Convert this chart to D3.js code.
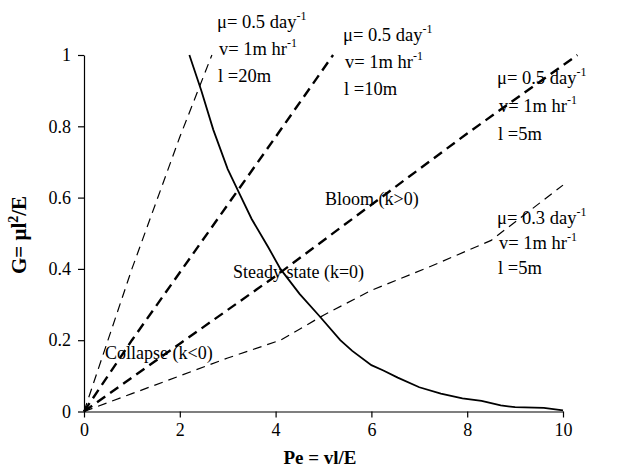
<!DOCTYPE html>
<html>
<head>
<meta charset="utf-8">
<script src="https://cdn.jsdelivr.net/npm/d3@7"></script>
<style>
  body { margin: 0; background: #fff; }
  text { font-family: "Liberation Serif", "Times New Roman", serif; fill: #000; }
</style>
</head>
<body>
<div id="root"></div>
<script>
// Steady state curve (k=0)
const steadyPe = [2.2, 2.45, 2.7, 3.0, 3.25, 3.5, 3.85, 4.1, 4.5, 4.9, 5.35, 5.6, 6.0, 6.25, 6.55, 7.0, 7.45, 7.9, 8.3, 8.7, 9.0, 9.6, 10];
const steadyG = [1.0, 0.9, 0.79, 0.68, 0.61, 0.54, 0.46, 0.4, 0.33, 0.27, 0.2, 0.17, 0.13, 0.115, 0.095, 0.068, 0.05, 0.037, 0.03, 0.017, 0.012, 0.01, 0.003];

// Dashed lines for each parameter set
const line20mPe = [0, 1, 2, 2.67];
const line20mG = [0, 0.4, 0.77, 1.0];
const line10mPe = [0, 1, 2, 3, 4, 5.2];
const line10mG = [0, 0.2, 0.39, 0.58, 0.77, 1.0];
const line5mPe = [0, 2, 4, 6, 8, 10.3];
const line5mG = [0, 0.19, 0.38, 0.58, 0.78, 1.0];
const line5mLowPe = [0, 1, 2, 3, 4.1, 5, 6, 7.2, 8.5, 10];
const line5mLowG = [0, 0.05, 0.1, 0.15, 0.2, 0.27, 0.34, 0.405, 0.48, 0.635];

const xTicks = [0, 2, 4, 6, 8, 10];
const yTicks = [0, 0.2, 0.4, 0.6, 0.8, 1];

const width = 636, height = 472;
const svg = d3.select("#root").append("svg")
  .attr("width", width)
  .attr("height", height);

const x = d3.scaleLinear().domain([0, 10]).range([84, 563]);
const y = d3.scaleLinear().domain([0, 1]).range([411.5, 55]);

// axes
svg.append("g")
  .attr("transform", `translate(0,${y(0)})`)
  .call(d3.axisBottom(x).tickValues(xTicks).tickFormat(d3.format("d")).tickSize(6).tickSizeOuter(0).tickPadding(6))
  .call(g => g.selectAll("text").style("font-size", "18px").style("font-family", "Liberation Serif"))
  .call(g => g.selectAll("path, line").attr("stroke", "#000").attr("stroke-width", 1.2));

svg.append("g")
  .attr("transform", `translate(${x(0)},0)`)
  .call(d3.axisLeft(y).tickValues(yTicks).tickFormat(d => d === 0 || d === 1 ? d : d3.format(".1f")(d)).tickSize(6).tickSizeOuter(0).tickPadding(7))
  .call(g => g.selectAll("text").style("font-size", "18px").style("font-family", "Liberation Serif"))
  .call(g => g.selectAll("path, line").attr("stroke", "#000").attr("stroke-width", 1.2));

const line = d3.line().x(d => x(d[0])).y(d => y(d[1]));

function drawLine(pe, g, width, dash) {
  svg.append("path")
    .datum(d3.zip(pe, g))
    .attr("d", line)
    .attr("fill", "none")
    .attr("stroke", "#000")
    .attr("stroke-width", width)
    .attr("stroke-dasharray", dash);
}

drawLine(line20mPe, line20mG, 1.2, "9,6");
drawLine(line10mPe, line10mG, 2.4, "10,6");
drawLine(line5mPe, line5mG, 2.4, "10,6");
drawLine(line5mLowPe, line5mLowG, 1.2, "9,6");
drawLine(steadyPe, steadyG, 1.8, null);

// parameter annotations
function note(x0, y0, mu, l, step) {
  const t1 = svg.append("text").attr("x", x0).attr("y", y0).style("font-size", "18.5px");
  t1.append("tspan").text(`μ= ${mu} day`);
  t1.append("tspan").attr("dy", -8).style("font-size", "12px").text("-1");
  const t2 = svg.append("text").attr("x", x0 + 2).attr("y", y0 + step).style("font-size", "18.5px");
  t2.append("tspan").text("v= 1m hr");
  t2.append("tspan").attr("dy", -8).style("font-size", "12px").text("-1");
  svg.append("text").attr("x", x0 + 1).attr("y", y0 + 2 * step).style("font-size", "18.5px").text(`l =${l}`);
}
note(217, 28, "0.5", "20m", 27);
note(343, 41, "0.5", "10m", 27);
note(497, 84, "0.5", "5m", 28);
note(497, 224, "0.3", "5m", 25);

// region labels
svg.append("text").attr("x", 325).attr("y", 205).style("font-size", "18px").text("Bloom (k>0)");
svg.append("text").attr("x", 233).attr("y", 278).style("font-size", "18px").text("Steady state (k=0)");
svg.append("text").attr("x", 105).attr("y", 359).style("font-size", "18px").text("Collapse (k<0)");

// axis titles
svg.append("text")
  .attr("x", 320).attr("y", 464)
  .attr("text-anchor", "middle")
  .style("font-size", "19px").style("font-weight", "bold")
  .text("Pe = vl/E");

const yt = svg.append("text")
  .attr("transform", "translate(26,235) rotate(-90)")
  .attr("text-anchor", "middle")
  .style("font-size", "21px").style("font-weight", "bold");
yt.append("tspan").text("G= μl");
yt.append("tspan").attr("dy", -8).style("font-size", "14px").text("2");
yt.append("tspan").attr("dy", 8).text("/E");
</script>
</body>
</html>
